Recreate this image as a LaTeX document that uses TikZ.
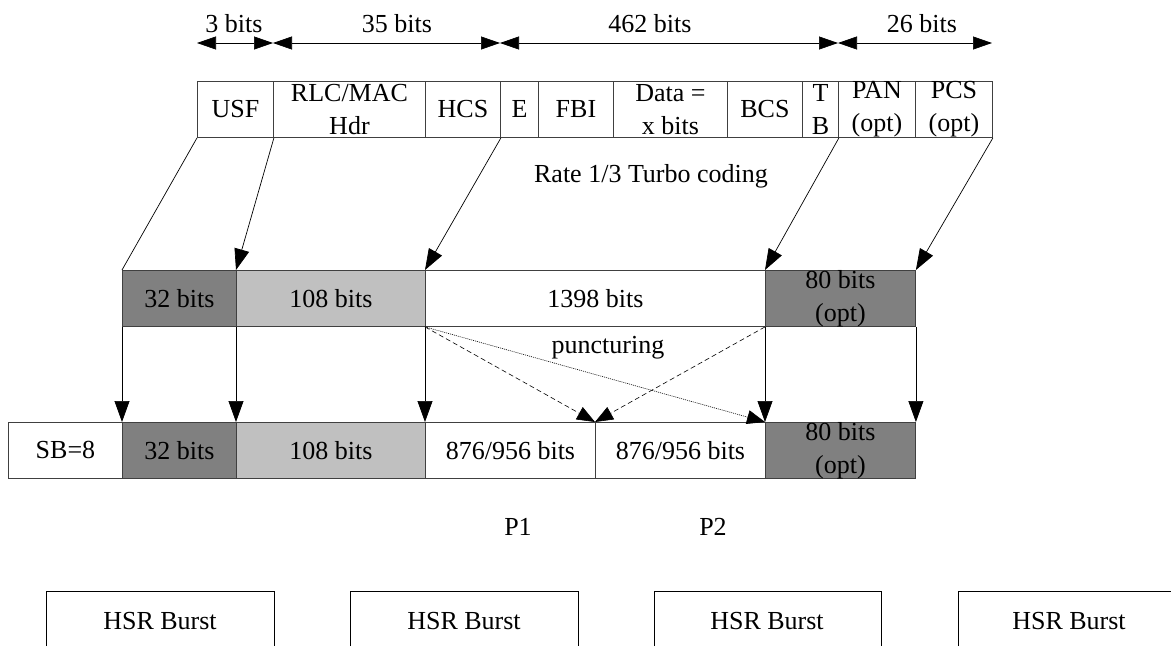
\documentclass[tikz,border=0pt]{standalone}
\usepackage{fontspec}
\setmainfont{Liberation Serif}
\usetikzlibrary{arrows.meta}
\definecolor{dgray}{HTML}{808080}
\definecolor{lgray}{HTML}{C0C0C0}
\definecolor{edge}{HTML}{404040}
\begin{document}
\begin{tikzpicture}[x=1pt,y=-1pt,
  cell/.style={draw=edge, line width=0.9pt, minimum height=56pt, inner sep=0pt,
    anchor=north west},
  ctext/.style={inner sep=0pt, align=center, font=\fontsize{26}{33}\selectfont},
  tx/.style={label={[ctext]center:{#1}}},
  dark/.style={fill=dgray},
  light/.style={fill=lgray},
  lbl/.style={font=\fontsize{26}{33}\selectfont, inner sep=0pt, anchor=base},
  conn/.style={line width=0.7pt, -{Triangle[length=21pt,width=15pt]}},
  dim/.style={line width=0.7pt, {Triangle[length=19pt,width=13pt]}-{Triangle[length=19pt,width=13pt]}},
  dsh/.style={line width=0.6pt, dash pattern=on 5pt off 3pt, -{Triangle[length=18pt,width=14pt]}},
  dtd/.style={line width=0.6pt, dash pattern=on 1pt off 1pt, -{Triangle[length=18pt,width=14pt]}},
  burst/.style={line width=0.8pt, draw=black}
]
\useasboundingbox (0,0) rectangle (1171,646);
\fill[white] (0,0) rectangle (1171,646);

% dimension arrows
\coordinate (d0) at (197,43);
\coordinate (d1) at (273,43);
\coordinate (d2) at (500,43);
\coordinate (d3) at (838,43);
\coordinate (d4) at (992,43);
\draw[dim] (d0) -- (d1);
\draw[dim] (d1) -- (d2);
\draw[dim] (d2) -- (d3);
\draw[dim] (d3) -- (d4);
\node[lbl] (l3) at (234,32) {3 bits};
\node[lbl] (l35) at (397,32) {35 bits};
\node[lbl] (l462) at (650,32) {462 bits};
\node[lbl] (l26) at (922,32) {26 bits};

% top row
\node[cell, minimum width=76pt, tx={USF}] (usf) at (197,81) {};
\node[cell, minimum width=152pt, tx={RLC/MAC\\Hdr}] (rlc) at (273,81) {};
\node[cell, minimum width=75pt, tx={HCS}] (hcs) at (425,81) {};
\node[cell, minimum width=38pt, tx={E}] (e) at (500,81) {};
\node[cell, minimum width=75pt, tx={FBI}] (fbi) at (538,81) {};
\node[cell, minimum width=114pt, tx={Data =\\x bits}] (data) at (613,81) {};
\node[cell, minimum width=75pt, tx={BCS}] (bcs) at (727,81) {};
\node[cell, minimum width=36pt, tx={T\\B}] (tb) at (802,81) {};
\node[cell, minimum width=77pt, tx={PAN\\(opt)}] (pan) at (838,81) {};
\node[cell, minimum width=77pt, tx={PCS\\(opt)}] (pcs) at (915,81) {};

\node[lbl] (rate) at (651,182) {Rate 1/3 Turbo coding};

% middle row
\node[cell, dark, minimum width=114pt, tx={32 bits}] (m1) at (122,270) {};
\node[cell, light, minimum width=189pt, tx={108 bits}] (m2) at (236,270) {};
\node[cell, minimum width=340pt, tx={1398 bits}] (m3) at (425,270) {};
\node[cell, dark, minimum width=150pt, tx={80 bits\\(opt)}] (m4) at (765,270) {};

% bottom row
\node[cell, minimum width=114pt, tx={SB=8}] (b0) at (8,422) {};
\node[cell, dark, minimum width=114pt, tx={32 bits}] (b1) at (122,422) {};
\node[cell, light, minimum width=189pt, tx={108 bits}] (b2) at (236,422) {};
\node[cell, minimum width=170pt, tx={876/956 bits}] (b3) at (425,422) {};
\node[cell, minimum width=170pt, tx={876/956 bits}] (b4) at (595,422) {};
\node[cell, dark, minimum width=150pt, tx={80 bits\\(opt)}] (b5) at (765,422) {};

\node[lbl] (punct) at (608,353) {puncturing};
\node[lbl] (p1) at (518,535) {P1};
\node[lbl] (p2) at (713,535) {P2};

% connectors top -> middle
\draw[line width=0.7pt] (usf.south west) -- (m1.north west);
\draw[conn] (usf.south east) -- (m2.north west);
\draw[conn] (hcs.south east) -- (m3.north west);
\draw[conn] (tb.south east) -- (m4.north west);
\draw[conn] (pcs.south east) -- (m4.north east);

% middle -> bottom
\draw[conn] (m1.south west) -- (b1.north west);
\draw[conn] (m2.south west) -- (b2.north west);
\draw[conn] (m3.south west) -- (b3.north west);
\draw[conn] (m4.south west) -- (b5.north west);
\draw[conn] (m4.south east) -- (b5.north east);
\draw[dsh] (m3.south west) -- (b4.north west);
\draw[dsh] (m4.south west) -- (b4.north west);
\draw[dtd] (m3.south west) -- (b5.north west);

% HSR bursts
\node[lbl] (h1) at (160,629) {HSR Burst};
\node[lbl] (h2) at (464,629) {HSR Burst};
\node[lbl] (h3) at (767,629) {HSR Burst};
\node[lbl] (h4) at (1069,629) {HSR Burst};
\draw[burst] (46,646) -- (46,591) -- (274,591) -- (274,646);
\draw[burst] (350,646) -- (350,591) -- (578,591) -- (578,646);
\draw[burst] (654,646) -- (654,591) -- (881,591) -- (881,646);
\draw[burst] (958,646) -- (958,591) -- (1171,591);
\end{tikzpicture}
\end{document}
